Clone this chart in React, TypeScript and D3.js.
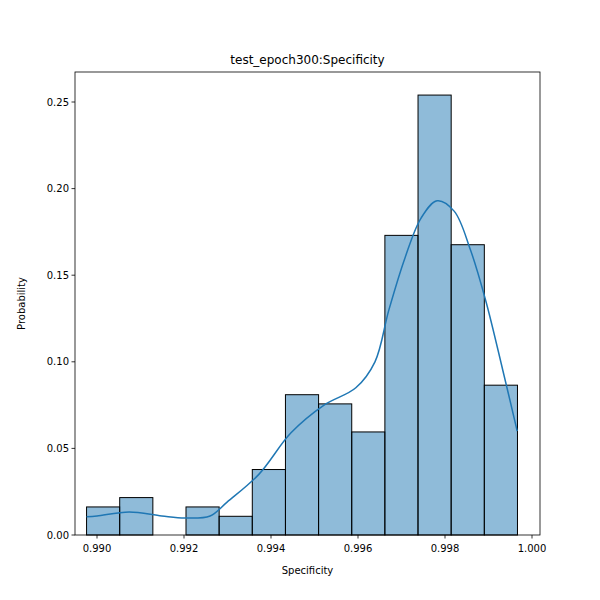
import React from "react";
import * as d3 from "d3";

const binStart = 0.98976;
const binWidth = 0.000762;
const binValues = [0.0162, 0.0216, 0, 0.0162, 0.0108, 0.0378, 0.081, 0.0757, 0.0595, 0.173, 0.254, 0.1676, 0.0865];
const kdeX = [0.98976, 0.9900, 0.99074, 0.99149, 0.99202, 0.9926, 0.99299, 0.99372, 0.99446, 0.99522, 0.99595, 0.99639, 0.99671, 0.99708, 0.99745, 0.99782, 0.99821, 0.99858, 0.99894, 0.99933, 0.99966];
const kdeY = [0.0105, 0.011, 0.0133, 0.011, 0.0098, 0.011, 0.019, 0.035, 0.059, 0.075, 0.085, 0.1, 0.13, 0.16, 0.183, 0.193, 0.187, 0.165, 0.135, 0.095, 0.06];
const xTicks = [0.99, 0.992, 0.994, 0.996, 0.998, 1.0];
const yTicks = [0, 0.05, 0.1, 0.15, 0.2, 0.25];

export default function App() {
  const L = 75, R = 540, T = 72, B = 535;
  const x = d3.scaleLinear().domain([0.99, 1.0]).range([97, 532]);
  const y = d3.scaleLinear().domain([0, 0.25]).range([B, 102]);
  const line = d3.line<number>().x((d, i) => x(kdeX[i])).y(d => y(d)).curve(d3.curveCatmullRom);
  const font = "DejaVu Sans, sans-serif";
  return (
    <svg width={600} height={600} style={{ position: "absolute", left: 0, top: 0 }} fontFamily={font}>
      <rect width={600} height={600} fill="white" />
      {binValues.map((v, i) => v > 0 && (
        <rect key={i} x={x(binStart + i * binWidth)} y={y(v)} width={x(binStart + (i + 1) * binWidth) - x(binStart + i * binWidth)} height={B - y(v)}
          fill="rgba(31,119,180,0.5)" stroke="black" strokeWidth={1} />
      ))}
      <path d={line(kdeY) || ""} fill="none" stroke="#1f77b4" strokeWidth={1.5} />
      <rect x={L} y={T} width={R - L} height={B - T} fill="none" stroke="black" strokeWidth={0.8} />
      {xTicks.map(t => (
        <g key={t}>
          <line x1={x(t)} x2={x(t)} y1={B} y2={B + 3.5} stroke="black" strokeWidth={0.8} />
          <text x={x(t)} y={B + 17} fontSize={10} textAnchor="middle">{t.toFixed(3)}</text>
        </g>
      ))}
      {yTicks.map(t => (
        <g key={t}>
          <line x1={L - 3.5} x2={L} y1={y(t)} y2={y(t)} stroke="black" strokeWidth={0.8} />
          <text x={L - 6} y={y(t) + 3.5} fontSize={10} textAnchor="end">{t.toFixed(2)}</text>
        </g>
      ))}
      <text x={(L + R) / 2} y={574} fontSize={10} textAnchor="middle">Specificity</text>
      <text transform={`translate(25,${(T + B) / 2}) rotate(-90)`} fontSize={10} textAnchor="middle">Probability</text>
      <text x={(L + R) / 2} y={64} fontSize={12} textAnchor="middle">test_epoch300:Specificity</text>
    </svg>
  );
}
